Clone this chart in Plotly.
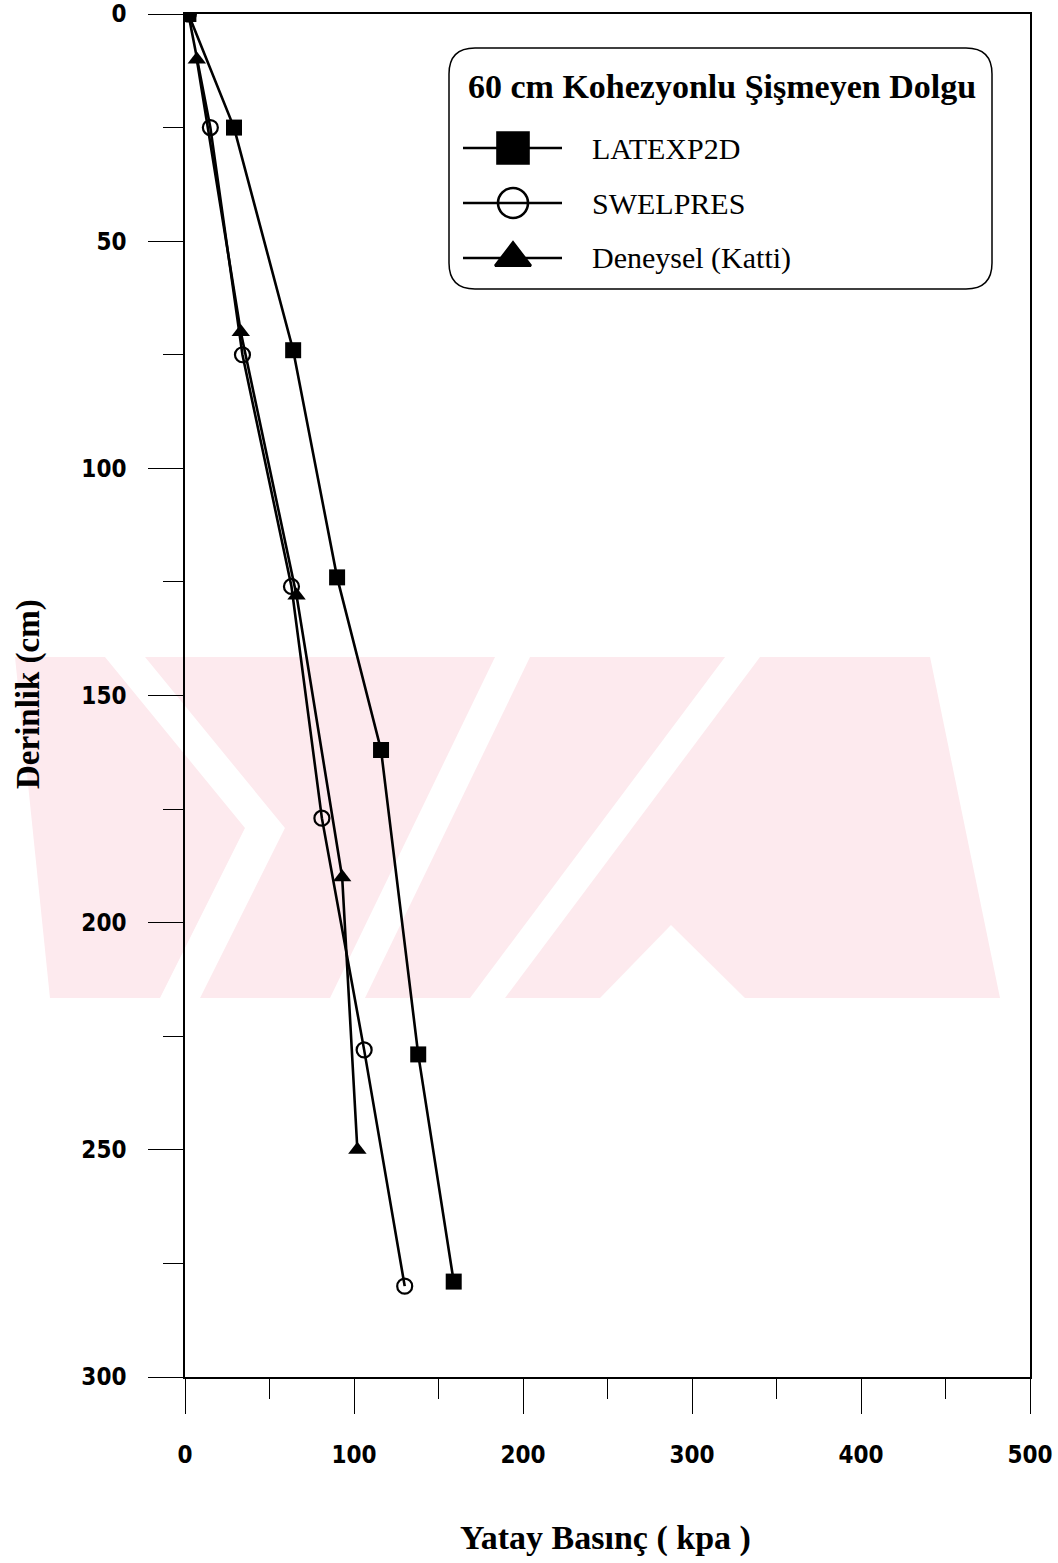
import plotly.graph_objects as go

# Horizontal pressure (kPa) vs. depth (cm) for a 60 cm cohesive non-swelling backfill
latexp_x = [2, 29, 64, 90, 116, 138, 159]
latexp_y = [0, 25, 74, 124, 162, 229, 279]

swel_x = [2, 15, 34, 63, 81, 106, 130]
swel_y = [0, 25, 75, 126, 177, 228, 280]

katti_x = [7, 33, 66, 93, 102]
katti_y = [10, 70, 128, 190, 250]

series_names = ["LATEXP2D", "SWELPRES", "Deneysel (Katti)"]
legend_title = "60 cm Kohezyonlu Şişmeyen Dolgu"
x_title = "Yatay Basınç ( kpa )"
y_title = "Derinlik (cm)"

W, H = 1058, 1563
L, R, T, B = 185, 28, 14, 186
PW, PH = W - L - R, H - T - B


def fx(x):
    """page pixel x -> paper fraction"""
    return (x - L) / PW


def fy(y):
    """page pixel y -> paper fraction"""
    return 1 - (y - T) / PH


fig = go.Figure()

line = dict(color="black", width=2.6)
fig.add_trace(go.Scatter(x=katti_x, y=katti_y, mode="lines+markers", line=line,
                         marker=dict(symbol="triangle-up", size=16, color="black"),
                         showlegend=False))
fig.add_trace(go.Scatter(x=swel_x, y=swel_y, mode="lines+markers", line=line,
                         marker=dict(symbol="circle-open", size=15, color="black",
                                     line=dict(width=2.2, color="black")),
                         showlegend=False))
fig.add_trace(go.Scatter(x=latexp_x, y=latexp_y, mode="lines+markers", line=line,
                         marker=dict(symbol="square", size=16, color="black"),
                         showlegend=False))

# Legend samples, drawn on an auxiliary axis measured in page pixels
sample_syms = [("square", 31), ("circle-open", 30), ("triangle-up", 31)]
legend_rows_px = [148, 203, 258]
for (sym, sz), ypx in zip(sample_syms, legend_rows_px):
    fig.add_trace(go.Scatter(x=[463, 562], y=[ypx, ypx], xaxis="x2", yaxis="y2",
                             mode="lines", line=dict(color="black", width=2.6),
                             showlegend=False, hoverinfo="skip"))
    fig.add_trace(go.Scatter(x=[513], y=[ypx], xaxis="x2", yaxis="y2", mode="markers",
                             marker=dict(symbol=sym, size=sz, color="black",
                                         line=dict(width=2.6, color="black")),
                             showlegend=False, hoverinfo="skip"))

shapes = []


def poly_path(points):
    return "M " + " L ".join(f"{fx(x):.4f},{fy(y):.4f}" for x, y in points) + " Z"


# pale pink background emblem: a pink block cut by thin white diagonal stripes
pink = "#fdeaee"
emblem = [(15, 657), (930, 657), (1000, 998), (50, 998)]
shapes.append(dict(type="path", path=poly_path(emblem), xref="paper", yref="paper",
                   fillcolor=pink, line=dict(width=0), layer="below"))
cuts = [
    [(105, 657), (145, 657), (285, 828), (200, 998), (160, 998), (245, 828)],
    [(495, 657), (530, 657), (365, 998), (330, 998)],
    [(725, 657), (760, 657), (505, 998), (470, 998)],
    [(671, 925), (745, 998), (600, 998)],
]
for c in cuts:
    shapes.append(dict(type="path", path=poly_path(c), xref="paper", yref="paper",
                       fillcolor="white", line=dict(width=0), layer="below"))

# rounded legend frame
x0, y0, x1, y1, r = 449, 48, 992, 289, 26


def P(x, y):
    return f"{fx(x):.5f},{fy(y):.5f}"


path = (f"M {P(x0 + r, y0)} L {P(x1 - r, y0)} Q {P(x1, y0)} {P(x1, y0 + r)} "
        f"L {P(x1, y1 - r)} Q {P(x1, y1)} {P(x1 - r, y1)} "
        f"L {P(x0 + r, y1)} Q {P(x0, y1)} {P(x0, y1 - r)} "
        f"L {P(x0, y0 + r)} Q {P(x0, y0)} {P(x0 + r, y0)} Z")
shapes.append(dict(type="path", path=path, xref="paper", yref="paper",
                   line=dict(color="black", width=1.5), fillcolor="white", layer="below"))

serif = "Liberation Serif"
annotations = [
    dict(text=f"<b>{legend_title}</b>", x=fx(466), y=fy(86), xref="paper", yref="paper",
         xanchor="left", yanchor="middle", showarrow=False,
         font=dict(family=serif, size=34, color="black")),
]
for name, ypx in zip(series_names, legend_rows_px):
    annotations.append(dict(text=name, x=fx(590), y=fy(ypx), xref="paper", yref="paper",
                            xanchor="left", yanchor="middle", showarrow=False,
                            font=dict(family=serif, size=30, color="black")))
annotations.append(dict(text=f"<b>{x_title}</b>", x=fx(605), y=fy(1538),
                        xref="paper", yref="paper", xanchor="center", yanchor="middle",
                        showarrow=False, font=dict(family=serif, size=34, color="black")))
annotations.append(dict(text=f"<b>{y_title}</b>", x=fx(28), y=fy(694),
                        xref="paper", yref="paper", xanchor="center", yanchor="middle",
                        textangle=-90, showarrow=False,
                        font=dict(family=serif, size=33, color="black")))

tickfont = dict(family="DejaVu Sans Condensed", size=24, color="black", weight="bold")
axis_common = dict(ticks="outside", ticklen=35, tickwidth=1.2, tickcolor="black",
                   showline=True, linecolor="black", linewidth=1.5, mirror=True,
                   showgrid=False, zeroline=False, tickfont=tickfont,
                   ticklabeloverflow="allow", automargin=False)
fig.update_layout(
    width=W, height=H,
    margin=dict(l=L, r=R, t=T, b=B, autoexpand=False),
    paper_bgcolor="white", plot_bgcolor="rgba(0,0,0,0)",
    shapes=shapes, annotations=annotations,
    xaxis=dict(range=[0, 500], tickvals=[0, 100, 200, 300, 400, 500],
               minor=dict(tickvals=[50, 150, 250, 350, 450], ticks="outside", ticklen=20,
                          tickwidth=1.2, tickcolor="black"),
               ticklabelstandoff=20, **axis_common),
    yaxis=dict(range=[300, 0], tickvals=[0, 50, 100, 150, 200, 250, 300],
               minor=dict(tickvals=[25, 75, 125, 175, 225, 275], ticks="outside", ticklen=20,
                          tickwidth=1.2, tickcolor="black"),
               ticklabelstandoff=17, **axis_common),
    xaxis2=dict(range=[L, W - R], visible=False, overlaying="x", anchor="y2",
                fixedrange=True),
    yaxis2=dict(range=[H - B, T], visible=False, overlaying="y", anchor="x2",
                fixedrange=True),
)

fig.write_html("out.html")
